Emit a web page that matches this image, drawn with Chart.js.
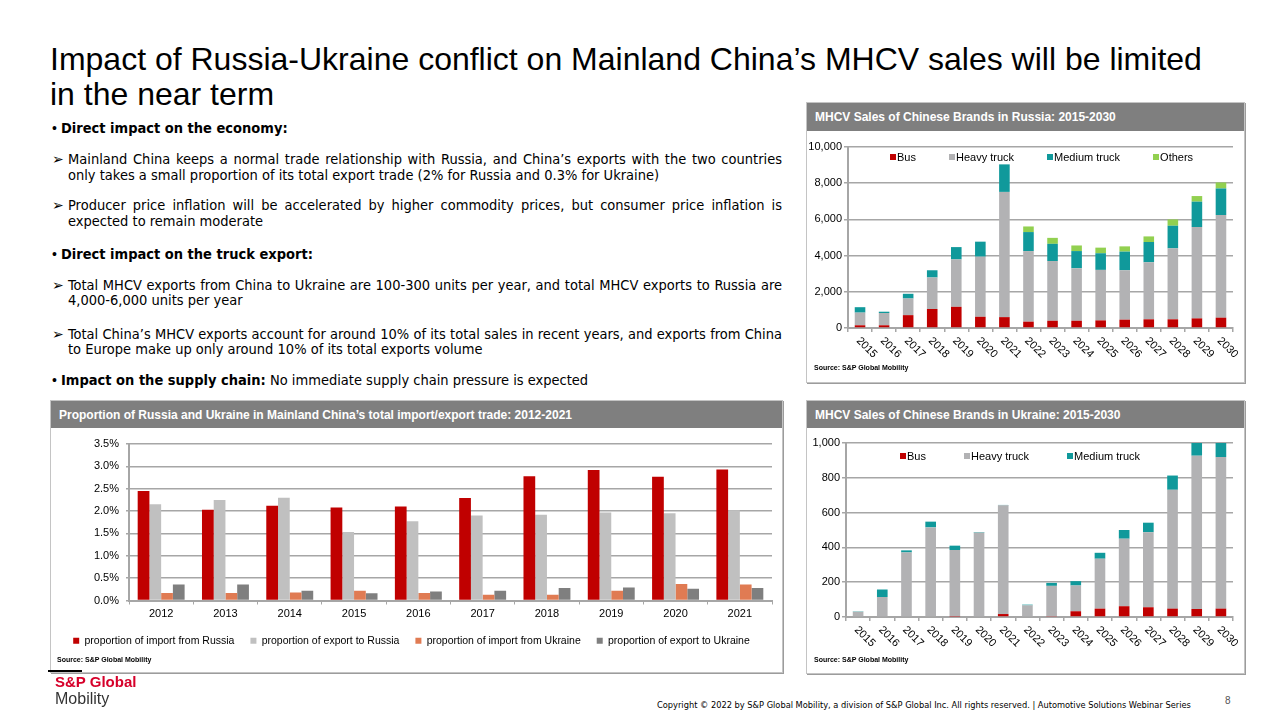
<!DOCTYPE html>
<html>
<head>
<meta charset="utf-8">
<title>Russia-Ukraine MHCV</title>
<script src="https://cdn.jsdelivr.net/npm/chart.js"></script>
<style>
body{margin:0;width:1280px;height:720px;position:relative;background:#fff;overflow:hidden;font-family:"Liberation Sans",Arial,sans-serif;color:#000}
.title{position:absolute;left:50px;top:42px;font-size:32px;line-height:35px;white-space:nowrap}
.ln{position:absolute;height:16px;line-height:16px;white-space:nowrap;font-family:"Liberation Sans Narrow","Arial Narrow","DejaVu Sans Condensed",sans-serif;font-size:14.5px}
.j{text-align:justify;text-align-last:justify;width:714px;left:68px}
.mk{position:absolute;left:52px;height:16px;line-height:16px;font-size:14px}
.panel{position:absolute;border:1px solid #c4c4c4;box-shadow:1px 1px 0 #9c9c9c;background:#fff}
.head{position:absolute;left:0;right:0;top:0;background:#7f7f7f;color:#fff;font-weight:bold;font-size:12px;padding-left:8px}
.src{position:absolute;font-size:7px;font-weight:bold;white-space:nowrap}
.leg{position:absolute;display:flex;font-size:11px;white-space:nowrap}
.leg span{display:flex;align-items:center}
.leg i{display:inline-block;width:6px;height:6px;margin-right:1px}
canvas{position:absolute}
</style>
</head>
<body>

<div class="title">Impact of Russia-Ukraine conflict on Mainland China’s MHCV sales will be limited<br>in the near term</div>

<div class="mk" style="top:120px">•</div>
<div class="ln" style="left:61px;top:120px"><b>Direct impact on the economy:</b></div>
<div class="mk" style="top:151px">➢</div>
<div class="ln j" style="top:151px">Mainland China keeps a normal trade relationship with Russia, and China’s exports with the two countries</div>
<div class="ln" style="left:68px;top:167px">only takes a small proportion of its total export trade (2% for Russia and 0.3% for Ukraine)</div>
<div class="mk" style="top:197px">➢</div>
<div class="ln j" style="top:197px">Producer price inflation will be accelerated by higher commodity prices, but consumer price inflation is</div>
<div class="ln" style="left:68px;top:213px">expected to remain moderate</div>
<div class="mk" style="top:246px">•</div>
<div class="ln" style="left:61px;top:246px"><b>Direct impact on the truck export:</b></div>
<div class="mk" style="top:277px">➢</div>
<div class="ln j" style="top:277px">Total MHCV exports from China to Ukraine are 100-300 units per year, and total MHCV exports to Russia are</div>
<div class="ln" style="left:68px;top:292px">4,000-6,000 units per year</div>
<div class="mk" style="top:326px">➢</div>
<div class="ln j" style="top:326px">Total China’s MHCV exports account for around 10% of its total sales in recent years, and exports from China</div>
<div class="ln" style="left:68px;top:341px">to Europe make up only around 10% of its total exports volume</div>
<div class="mk" style="top:372px">•</div>
<div class="ln" style="left:61px;top:372px"><b>Impact on the supply chain:</b> No immediate supply chain pressure is expected</div>

<div class="panel" style="left:806px;top:102px;width:437px;height:279px">
  <div class="head" style="height:28px;line-height:28px">MHCV Sales of Chinese Brands in Russia: 2015-2030</div>
</div>
<div class="panel" style="left:806px;top:400px;width:437px;height:272px">
  <div class="head" style="height:27px;line-height:28px">MHCV Sales of Chinese Brands in Ukraine: 2015-2030</div>
</div>
<div class="panel" style="left:50px;top:400px;width:731px;height:271px">
  <div class="head" style="height:27px;line-height:28px">Proportion of Russia and Ukraine in Mainland China’s total import/export trade: 2012-2021</div>
</div>

<canvas id="ruChart" style="left:807px;top:131px" width="436" height="250"></canvas>
<canvas id="uaChart" style="left:807px;top:428px" width="436" height="244"></canvas>
<canvas id="tradeChart" style="left:51px;top:428px" width="730" height="243"></canvas>

<div class="leg" id="ruLeg" style="left:890px;top:151px;gap:33px"></div>
<div class="leg" id="uaLeg" style="left:900px;top:450px;gap:38px"></div>

<div class="src" style="left:814px;top:364px">Source: S&amp;P Global Mobility</div>
<div class="src" style="left:814px;top:656px">Source: S&amp;P Global Mobility</div>
<div class="src" style="left:57px;top:656px">Source: S&amp;P Global Mobility</div>
<div style="position:absolute;left:48px;top:670px;width:34px;height:2px;background:#000"></div>

<div style="position:absolute;left:55px;top:673px;font-size:15px;font-weight:bold;color:#d6002a;font-family:'Liberation Sans Narrow','Liberation Sans',Arial">S&amp;P Global</div>
<div style="position:absolute;left:55px;top:690px;font-size:16px;color:#333">Mobility</div>
<div style="position:absolute;left:657px;top:699px;font-size:9.2px;white-space:nowrap;font-family:'Liberation Sans Narrow','DejaVu Sans Condensed',Arial">Copyright © 2022 by S&amp;P Global Mobility, a division of S&amp;P Global Inc. All rights reserved. | Automotive Solutions Webinar Series</div>
<div style="position:absolute;left:1225px;top:695px;font-size:10px;color:#555">8</div>

<script>
var years = ["2015","2016","2017","2018","2019","2020","2021","2022","2023","2024","2025","2026","2027","2028","2029","2030"];

// Russia, units
var ruBus    = [150, 150, 710, 1050, 1170, 620, 600, 350, 400, 400, 420, 460, 480, 480, 530, 570];
var ruHeavy  = [700, 680, 920, 1740, 2620, 3320, 6920, 3900, 3300, 2900, 2790, 2730, 3150, 3920, 5050, 5670];
var ruMedium = [300, 70, 260, 400, 680, 830, 1520, 1050, 950, 950, 920, 1030, 1120, 1250, 1400, 1470];
var ruOthers = [0, 0, 0, 0, 0, 0, 0, 310, 330, 310, 310, 290, 310, 350, 310, 330];

// Ukraine, units
var uaBus    = [0, 0, 0, 0, 2, 0, 17, 0, 3, 33, 48, 62, 56, 48, 46, 48];
var uaHeavy  = [30, 115, 371, 515, 383, 485, 625, 67, 176, 148, 287, 388, 431, 683, 881, 871];
var uaMedium = [2, 43, 12, 33, 25, 3, 2, 4, 17, 25, 34, 50, 55, 82, 120, 120];

// trade share, %
var tradeYears = ["2012","2013","2014","2015","2016","2017","2018","2019","2020","2021"];
var impRussia  = [2.45, 2.03, 2.12, 2.08, 2.10, 2.29, 2.78, 2.92, 2.77, 2.93];
var expRussia  = [2.15, 2.25, 2.30, 1.53, 1.77, 1.90, 1.92, 1.97, 1.95, 2.02];
var impUkraine = [0.165, 0.17, 0.18, 0.22, 0.165, 0.13, 0.13, 0.22, 0.37, 0.36];
var expUkraine = [0.36, 0.36, 0.22, 0.16, 0.20, 0.22, 0.28, 0.29, 0.26, 0.28];

var ruMax = 10000, ruStep = 2000;
var uaMax = 1000, uaStep = 200;
var tradeMax = 3.5, tradeStep = 0.5;

var red = "#c00000", grey = "#b2b2b4", teal = "#10999b", green = "#92d050";

Chart.defaults.font.family = "'Liberation Sans', Arial, sans-serif";
Chart.defaults.font.size = 11;
Chart.defaults.color = "#000";
Chart.defaults.animation = false;

// year labels slanted downwards to the right
var slantLabels = {
  id: "slantLabels",
  afterDraw: function(chart) {
    var xs = chart.scales.x, ctx = chart.ctx, area = chart.chartArea;
    ctx.save();
    ctx.font = "11px 'Liberation Sans', Arial";
    ctx.fillStyle = "#000";
    ctx.textAlign = "left";
    ctx.textBaseline = "middle";
    chart.data.labels.forEach(function(lab, i) {
      ctx.save();
      ctx.translate(xs.getPixelForValue(i) - 2, area.bottom + 11);
      ctx.rotate(Math.PI / 4);
      ctx.fillText(lab, 0, 0);
      ctx.restore();
    });
    ctx.restore();
  }
};

function salesChart(id, sets, max, step, yw, xh, top) {
  return new Chart(id, {
    type: "bar",
    data: { labels: years, datasets: sets },
    plugins: [slantLabels],
    options: {
      responsive: false,
      layout: { padding: { top: top, right: 10, left: 0, bottom: 0 } },
      plugins: { legend: { display: false }, tooltip: { enabled: false } },
      datasets: { bar: { categoryPercentage: 0.44, barPercentage: 1 } },
      scales: {
        x: {
          stacked: true,
          ticks: { display: false },
          grid: { drawOnChartArea: false, tickLength: 4, color: "#a6a6a6", lineWidth: 1.5 },
          border: { color: "#a6a6a6", width: 2 },
          afterFit: function(s) { s.height = xh; }
        },
        y: {
          stacked: true, min: 0, max: max,
          ticks: { stepSize: step, padding: 2, callback: function(v) { return v.toLocaleString("en-US"); } },
          grid: { color: "#a6a6a6", lineWidth: 1.5, tickLength: 4 },
          border: { color: "#a6a6a6", width: 2 },
          afterFit: function(s) { s.width = yw; }
        }
      }
    }
  });
}

function htmlLegend(chart, id) {
  var box = document.getElementById(id);
  chart.data.datasets.forEach(function(d) {
    var s = document.createElement("span");
    s.innerHTML = '<i style="background:' + d.backgroundColor + '"></i>' + d.label;
    box.appendChild(s);
  });
}

var ru = salesChart("ruChart", [
  { label: "Bus", data: ruBus, backgroundColor: red },
  { label: "Heavy truck", data: ruHeavy, backgroundColor: grey },
  { label: "Medium truck", data: ruMedium, backgroundColor: teal },
  { label: "Others", data: ruOthers, backgroundColor: green }
], ruMax, ruStep, 41, 53, 16);
htmlLegend(ru, "ruLeg");

var ua = salesChart("uaChart", [
  { label: "Bus", data: uaBus, backgroundColor: red },
  { label: "Heavy truck", data: uaHeavy, backgroundColor: grey },
  { label: "Medium truck", data: uaMedium, backgroundColor: teal }
], uaMax, uaStep, 39, 55, 15);
htmlLegend(ua, "uaLeg");

new Chart("tradeChart", {
  type: "bar",
  data: {
    labels: tradeYears,
    datasets: [
      { label: "proportion of import from Russia", data: impRussia, backgroundColor: red },
      { label: "proportion of export to Russia", data: expRussia, backgroundColor: "#c0c0c0" },
      { label: "proportion of import from Ukraine", data: impUkraine, backgroundColor: "#e07b53" },
      { label: "proportion of export to Ukraine", data: expUkraine, backgroundColor: "#7f7f7f" }
    ]
  },
  options: {
    responsive: false,
    layout: { padding: { top: 16, right: 9, left: 0, bottom: 15 } },
    datasets: { bar: { categoryPercentage: 0.73, barPercentage: 1 } },
    plugins: {
      tooltip: { enabled: false },
      legend: {
        position: "bottom",
        labels: { boxWidth: 6, boxHeight: 6, padding: 16, font: { size: 10.5 }, color: "#000" }
      }
    },
    scales: {
      x: {
        ticks: { padding: 3 },
        grid: { drawOnChartArea: false, tickLength: 4, color: "#a6a6a6" },
        border: { color: "#a6a6a6", width: 2 },
        afterFit: function(s) { s.height = 19; }
      },
      y: {
        min: 0, max: tradeMax,
        ticks: { stepSize: tradeStep, padding: 7, callback: function(v) { return v.toFixed(1) + "%"; } },
        grid: { color: "#a6a6a6", lineWidth: 1.5, tickLength: 3 },
        border: { color: "#a6a6a6", width: 2 },
        afterFit: function(s) { s.width = 78; }
      }
    }
  }
});
</script>
</body>
</html>
